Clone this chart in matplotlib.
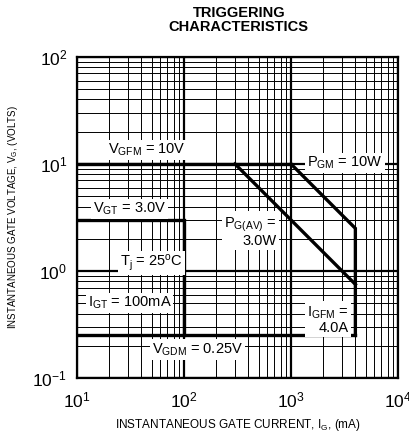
import matplotlib
matplotlib.use("Agg")
import matplotlib.pyplot as plt
from matplotlib.ticker import LogLocator, NullFormatter

plt.rcParams['font.family'] = ['Liberation Sans', 'DejaVu Sans']
plt.rcParams['mathtext.fontset'] = 'custom'
plt.rcParams['mathtext.rm'] = 'Liberation Sans'
plt.rcParams['mathtext.it'] = 'Liberation Sans'
plt.rcParams['mathtext.bf'] = 'Liberation Sans:bold'
plt.rcParams['axes.unicode_minus'] = False

# gate limit curves (current in mA, voltage in V)
vgfm_i = [10, 1000]
vgfm_v = [10, 10]
pgm_i = [1000, 4000, 4000]
pgm_v = [10, 2.5, 0.25]
pgav_i = [300, 4000]
pgav_v = [10, 0.75]
vgdm_i = [10, 4000]
vgdm_v = [0.25, 0.25]
vgt_i = [10, 100, 100]
vgt_v = [3.0, 3.0, 0.25]

# annotations: (text, x, y, ha)
labels = [
    (r"$\mathrm{V_{GFM}}$ = 10V", 45, 13.5, 'center'),
    (r"$\mathrm{V_{GT}}$ = 3.0V", 31, 3.8, 'center'),
    (r"$\mathrm{P_{GM}}$ = 10W", 3200, 10.2, 'center'),
    (r"$\mathrm{P_{G(AV)}}$ =" + "\n3.0W", 740, 2.3, 'right'),
    (r"$\mathrm{T_j}$ = 25$\mathrm{^oC}$", 50, 1.19, 'center'),
    (r"$\mathrm{I_{GT}}$ = 100mA", 31, 0.50, 'center'),
    (r"$\mathrm{V_{GDM}}$ = 0.25V", 135, 0.185, 'center'),
    (r"$\mathrm{I_{GFM}}$ =" + "\n4.0A", 3450, 0.35, 'right'),
]

fig = plt.figure(figsize=(4.09, 4.34), dpi=100)
ax = fig.add_axes([0.188, 0.129, 0.785, 0.74])
ax.set_xscale('log')
ax.set_yscale('log')
ax.set_xlim(10, 1e4)
ax.set_ylim(0.1, 100)

ax.xaxis.set_major_locator(LogLocator(base=10))
ax.yaxis.set_major_locator(LogLocator(base=10))
ax.xaxis.set_minor_locator(LogLocator(base=10, subs=range(2, 10)))
ax.yaxis.set_minor_locator(LogLocator(base=10, subs=range(2, 10)))
ax.xaxis.set_minor_formatter(NullFormatter())
ax.yaxis.set_minor_formatter(NullFormatter())
ax.grid(which='major', color='black', linewidth=1.6)
ax.grid(which='minor', color='black', linewidth=0.7)
ax.tick_params(which='both', length=0, labelsize=12.5)
ax.tick_params(axis='x', pad=9)
ax.tick_params(axis='y', pad=7)
for s in ax.spines.values():
    s.set_linewidth(1.6)

lw = 2.4
for xs, ys in [(vgfm_i, vgfm_v), (pgm_i, pgm_v), (pgav_i, pgav_v),
               (vgdm_i, vgdm_v), (vgt_i, vgt_v)]:
    ax.plot(xs, ys, color='black', linewidth=lw, solid_joinstyle='miter', zorder=3)

for txt, x, y, ha in labels:
    ax.text(x, y, txt, ha=ha, va='center', fontsize=10.5, multialignment='right',
            linespacing=1.0, zorder=4,
            bbox=dict(facecolor='white', edgecolor='none', pad=1.5))

ax.set_xlabel(r"INSTANTANEOUS GATE CURRENT, $\mathrm{I_G}$, (mA)", fontsize=8.5, labelpad=5)
ax.set_ylabel(r"INSTANTANEOUS GATE VOLTAGE, $\mathrm{V_G}$, (VOLTS)", fontsize=7, labelpad=9)
fig.text(0.584, 0.955, "TRIGGERING\nCHARACTERISTICS", ha='center', va='center',
         fontsize=10.5, fontweight='bold', linespacing=1.0)

fig.savefig("out.png", dpi=100)
